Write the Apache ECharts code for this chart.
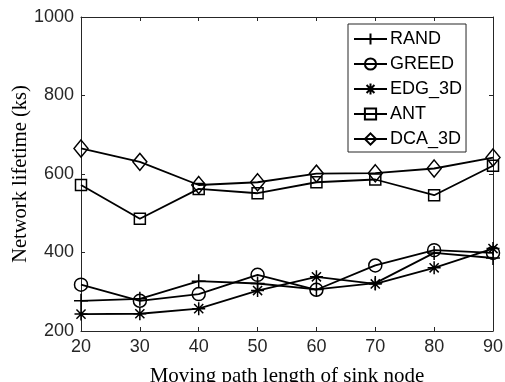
<!DOCTYPE html>
<html>
<head>
<meta charset="utf-8">
<script src="https://cdn.jsdelivr.net/npm/echarts@6/dist/echarts.min.js"></script>
<style>
  html, body { margin: 0; padding: 0; background: #fff; }
  #chart { width: 505px; height: 382px; }
</style>
</head>
<body>
<div id="chart"></div>
<script>
const pathLengths = [20, 30, 40, 50, 60, 70, 80, 90];
const randLife = [277, 282, 327, 321, 306, 322, 399, 386];
const greedLife = [318, 277, 294, 343, 305, 367, 406, 399];
const edgLife = [243, 244, 257, 303, 338, 320, 361, 410];
const antLife = [572, 486, 562, 551, 579, 586, 546, 621];
const dcaLife = [665, 631, 572, 579, 601, 602, 614, 642];

const seriesNames = ['RAND', 'GREED', 'EDG_3D', 'ANT', 'DCA_3D'];
const seriesData = [randLife, greedLife, edgLife, antLife, dcaLife];
const markers = [
    'path://M0,-1L0,1M-1,0L1,0',
    'circle',
    'path://M0,-1L0,1M-1,0L1,0M-0.7,-0.7L0.7,0.7M-0.7,0.7L0.7,-0.7',
    'rect',
    'diamond'
];
const markerSizes = [14, 13, 13, 11, [14, 17]];

const chart = echarts.init(document.getElementById('chart'));

const axisGray = '#262626';
const tickFont = { fontFamily: 'Liberation Sans', fontSize: 18, color: '#262626' };

const option = {
    animation: false,
    grid: { left: 81, right: 12, top: 17, bottom: 51, outerBoundsMode: 'none', containLabel: false },
    legend: {
        orient: 'vertical',
        left: 348,
        top: 24,
        data: seriesNames,
        backgroundColor: '#fff',
        borderColor: axisGray,
        borderWidth: 1,
        padding: [6, 4, 4, 5],
        itemWidth: 33,
        itemHeight: 14,
        itemGap: 7,
        textStyle: { fontFamily: 'Liberation Sans', fontSize: 18, color: '#000', padding: [0, 0, 0, -2] }
    },
    xAxis: [
        {
            type: 'value',
            min: 20, max: 90, interval: 10,
            name: 'Moving path length of sink node',
            nameLocation: 'middle',
            nameGap: 35,
            nameMoveOverlap: false,
            nameTextStyle: { fontFamily: 'Liberation Serif', fontSize: 21, color: '#000' },
            axisLine: { lineStyle: { color: axisGray } },
            axisTick: { inside: true, length: 4, lineStyle: { color: axisGray } },
            axisLabel: Object.assign({ margin: 7, formatter: v => String(v) }, tickFont),
            splitLine: { show: false }
        },
        {
            type: 'value', position: 'top',
            min: 20, max: 90, interval: 10,
            axisLine: { lineStyle: { color: axisGray } },
            axisTick: { inside: true, length: 4, lineStyle: { color: axisGray } },
            axisLabel: { show: false },
            splitLine: { show: false }
        }
    ],
    yAxis: [
        {
            type: 'value',
            min: 200, max: 1000, interval: 200,
            name: 'Network lifetime (ks)',
            nameLocation: 'middle',
            nameGap: 50,
            nameMoveOverlap: false,
            nameTextStyle: { fontFamily: 'Liberation Serif', fontSize: 20.5, color: '#000' },
            axisLine: { show: true, lineStyle: { color: axisGray } },
            axisTick: { show: true, inside: true, length: 4, lineStyle: { color: axisGray } },
            axisLabel: Object.assign({ margin: 7, formatter: v => String(v) }, tickFont),
            splitLine: { show: false }
        },
        {
            type: 'value', position: 'right',
            min: 200, max: 1000, interval: 200,
            axisLine: { show: true, lineStyle: { color: axisGray } },
            axisTick: { show: true, inside: true, length: 4, lineStyle: { color: axisGray } },
            axisLabel: { show: false },
            splitLine: { show: false }
        }
    ],
    series: seriesNames.map((name, i) => ({
        name: name,
        type: 'line',
        data: pathLengths.map((x, j) => [x, seriesData[i][j]]),
        symbol: markers[i],
        symbolSize: markerSizes[i],
        showAllSymbol: true,
        lineStyle: { color: '#000', width: 1.8 },
        itemStyle: { color: 'rgba(0,0,0,0)', borderColor: '#000', borderWidth: 1.5 },
        emphasis: { disabled: true }
    }))
};

chart.setOption(option);
</script>
</body>
</html>
